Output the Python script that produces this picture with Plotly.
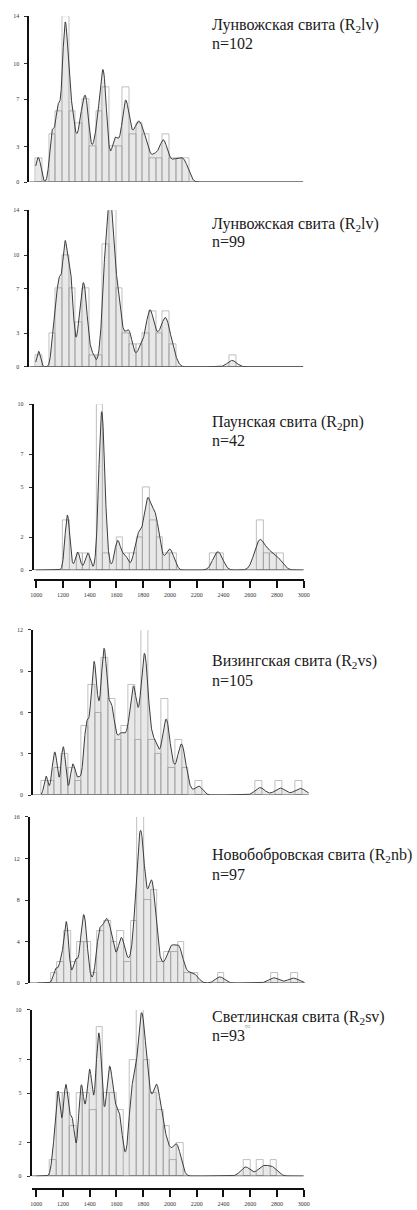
import numpy as np
import plotly.graph_objects as go

W, H = 417, 1210
BIN = 50            # histogram bin width, Ma
PX_PER_MA = 0.137   # horizontal scale shared by all panels

# ---- detrital zircon ages (Ma), one list per formation ----
ages_lv_a = [1008, 1030,
             1112, 1118, 1125, 1140,
             1158, 1162, 1165, 1170, 1180, 1192,
             1203, 1207, 1210, 1213, 1216, 1218, 1220, 1222, 1225, 1228, 1233, 1238, 1242, 1247,
             1255, 1260, 1268, 1275, 1282, 1295,
             1310, 1325, 1335, 1342, 1348,
             1358, 1365, 1372, 1376, 1380, 1385, 1392,
             1412, 1435, 1446,
             1460, 1468, 1475, 1485, 1492, 1497,
             1502, 1505, 1508, 1510, 1512, 1515, 1520, 1535,
             1575, 1585, 1592,
             1605, 1620, 1640,
             1655, 1662, 1668, 1672, 1675, 1678, 1683, 1692,
             1710, 1722, 1735, 1745,
             1760, 1768, 1772, 1778, 1790,
             1808, 1815, 1822, 1840,
             1870, 1890,
             1905, 1935,
             1952, 1956, 1960, 1975,
             2010, 2035,
             2060, 2085,
             2110, 2125]

ages_lv_b = [1022,
             1128, 1140, 1146,
             1160, 1168, 1172, 1175, 1178, 1185, 1195,
             1208, 1212, 1215, 1217, 1219, 1220, 1222, 1226, 1235, 1244,
             1252, 1255, 1258, 1262, 1266, 1272, 1280,
             1318, 1328, 1335, 1345,
             1352, 1356, 1360, 1365, 1370, 1378, 1390,
             1425,
             1490,
             1508, 1512, 1516, 1520, 1524, 1527, 1530, 1533, 1538, 1542, 1547,
             1551, 1553, 1555, 1557, 1558, 1560, 1561, 1562, 1564, 1566, 1570, 1575, 1585, 1595,
             1600, 1603, 1606, 1612, 1620, 1628, 1640,
             1660, 1680, 1695,
             1705, 1712,
             1770, 1790,
             1820, 1838, 1846,
             1852, 1855, 1860, 1872, 1885,
             1910, 1925, 1940,
             1962, 1968, 1972, 1976, 1988,
             2010, 2030,
             2468]

ages_pn = [1228, 1232, 1240,
           1310,
           1385,
           1478, 1482, 1485, 1487, 1489, 1490, 1491, 1493, 1495, 1498,
           1520,
           1605, 1612,
           1665,
           1745,
           1765, 1778,
           1820, 1825, 1830, 1833, 1840,
           1870, 1880, 1888,
           1902, 1915,
           1985,
           2012,
           2345, 2372,
           2660, 2665, 2672,
           2720,
           2760,
           2810]

ages_vs = [1035,
           1085,
           1102, 1110,
           1158, 1163, 1170,
           1230, 1240,
           1280,
           1322, 1332, 1338, 1342, 1346,
           1372, 1380, 1384, 1387, 1390, 1392, 1395, 1398,
           1405, 1410, 1418, 1430, 1440, 1447,
           1462, 1465, 1467, 1469, 1470, 1471, 1473, 1475, 1478, 1485,
           1510, 1516, 1520, 1523, 1527, 1535, 1545,
           1560, 1575, 1585, 1595,
           1605, 1615, 1630, 1640, 1648,
           1668, 1675, 1680, 1684, 1687, 1690, 1693, 1698,
           1705, 1715, 1730, 1748,
           1755, 1760, 1763, 1766, 1768, 1770, 1772, 1774, 1777, 1780, 1785, 1792,
           1805, 1815, 1830, 1845,
           1855, 1860, 1875,
           1915, 1922, 1927, 1930, 1933, 1938, 1945,
           1960, 1985,
           2030, 2040, 2045, 2048,
           2060, 2080,
           2175,
           2635, 2785, 2935]

ages_nb = [1135,
           1170, 1190,
           1212, 1216, 1219, 1222, 1226,
           1280, 1290,
           1325, 1335, 1342, 1346,
           1352, 1355, 1362, 1375,
           1445,
           1460, 1466, 1470, 1475, 1490,
           1505, 1512, 1516, 1520, 1525, 1540,
           1552, 1556, 1560, 1585,
           1615, 1622, 1628, 1634, 1645,
           1665, 1690,
           1715, 1735, 1740, 1744, 1746, 1748,
           1752, 1755, 1760, 1765, 1770, 1773, 1775, 1777, 1778, 1779, 1780, 1781, 1783, 1785, 1788, 1795,
           1802, 1806, 1810, 1830, 1840, 1845, 1847, 1849,
           1855, 1858, 1861, 1863, 1865, 1867, 1870, 1875, 1885,
           1915, 1935,
           1975, 1988, 1995,
           2005, 2020, 2040,
           2058, 2063, 2068, 2080,
           2135, 2180,
           2365,
           2770,
           2915]

ages_sv = [1130,
           1155, 1160, 1163, 1170, 1190,
           1215, 1218, 1221, 1225, 1240,
           1262, 1270, 1278,
           1325, 1330, 1335, 1338, 1345,
           1362, 1385, 1393, 1397, 1399,
           1402, 1408, 1425, 1445,
           1458, 1462, 1466, 1468, 1470, 1472, 1475, 1480, 1490,
           1520, 1535, 1540, 1545, 1548,
           1552, 1558, 1570, 1580, 1595,
           1610, 1620, 1625, 1640,
           1705, 1710, 1713, 1716, 1722, 1735, 1745,
           1765, 1770, 1774, 1777, 1779, 1781, 1783, 1786, 1790, 1798,
           1805, 1812, 1818, 1822, 1826, 1832, 1845,
           1858, 1875, 1888, 1895, 1899,
           1905, 1910, 1915, 1935,
           1955, 1962, 1990,
           2030,
           2055, 2062,
           2565, 2690, 2765]

formations = ["Лунвожская свита (R<sub>2</sub>lv)",
              "Лунвожская свита (R<sub>2</sub>lv)",
              "Паунская свита (R<sub>2</sub>pn)",
              "Визингская свита (R<sub>2</sub>vs)",
              "Новобобровская свита (R<sub>2</sub>nb)",
              "Светлинская свита (R<sub>2</sub>sv)"]
n_labels = ["n=102", "n=99", "n=42", "n=105", "n=97", "n=93"]
y_ticks = [[0, 3, 7, 10, 14], [0, 3, 7, 10, 14], [0, 2, 5, 7, 10],
           [0, 3, 6, 9, 12], [0, 4, 8, 12, 16], [0, 2, 5, 7, 10]]
x_ticks = [1000, 1200, 1400, 1600, 1800, 2000, 2200, 2400, 2600, 2800, 3000]

all_ages = [ages_lv_a, ages_lv_b, ages_pn, ages_vs, ages_nb, ages_sv]

# ---- panel geometry in pixels ----
# top: y of the axis maximum, base: y of zero, yax: x of the y axis line,
# x1000: x of 1000 Ma, xaxis: y of the age axis (None = no age axis),
# t1/t2: baselines of the two label lines
frames = [
    dict(top=13.3, base=180.0, yax=26.0, x1000=32.5, xaxis=None, t1=28.3, t2=46.0),
    dict(top=208.3, base=365.7, yax=26.0, x1000=32.5, xaxis=None, t1=227.7, t2=245.0),
    dict(top=403.3, base=570.0, yax=30.5, x1000=33.0, xaxis=579.5, t1=427.0, t2=445.0),
    dict(top=630.0, base=796.0, yax=30.0, x1000=38.3, xaxis=None, t1=666.7, t2=686.0),
    dict(top=818.0, base=985.0, yax=26.7, x1000=34.0, xaxis=None, t1=861.7, t2=881.0),
    dict(top=1012.0, base=1179.0, yax=28.3, x1000=33.0, xaxis=1191.5, t1=1025.0, t2=1042.7),
]

SERIF = "Liberation Serif, Times New Roman, serif"
TITLE_FS = 16


def density(ages, grid):
    """Probability density curve scaled to histogram counts (1.4% 1-sigma errors)."""
    a = np.asarray(ages, dtype=float)[:, None]
    s = 0.014 * a
    g = np.exp(-0.5 * ((grid[None, :] - a) / s) ** 2) / (s * np.sqrt(2 * np.pi))
    return BIN * g.sum(axis=0)


grid = np.arange(1000, 3001, 1.0)

fig = go.Figure()
layout = dict(width=W, height=H, margin=dict(l=0, r=0, t=0, b=0),
              paper_bgcolor="white", plot_bgcolor="rgba(0,0,0,0)",
              showlegend=False, bargap=0, barmode="overlay")
shapes, annotations = [], []

for i, (ages, fr) in enumerate(zip(all_ages, frames)):
    k = "" if i == 0 else str(i + 1)
    xa, ya = "x" + k, "y" + k
    ymax = y_ticks[i][-1]
    x_lo = 1000 - (fr["x1000"] - fr["yax"]) / PX_PER_MA
    x_right_px = fr["x1000"] + 2000 * PX_PER_MA
    px_per_unit = (fr["base"] - fr["top"]) / ymax

    # histogram outlines
    fig.add_trace(go.Histogram(
        x=ages, xaxis=xa, yaxis=ya, autobinx=False,
        xbins=dict(start=1000, end=3000, size=BIN),
        marker=dict(color="rgba(255,255,255,0)", line=dict(color="#b0b0b0", width=0.8)),
        hoverinfo="skip"))

    # filled probability density curve
    fig.add_trace(go.Scatter(
        x=grid, y=density(ages, grid), xaxis=xa, yaxis=ya, mode="lines",
        fill="tozeroy", fillcolor="rgba(0,0,0,0.09)",
        line=dict(color="#3c3c3c", width=1), hoverinfo="skip"))

    # individual ages as open circles under the baseline
    rug_y = -4.0 / px_per_unit
    fig.add_trace(go.Scatter(
        x=ages, y=[rug_y] * len(ages), xaxis=xa, yaxis=ya, mode="markers",
        cliponaxis=False,
        marker=dict(symbol="circle-open", size=5, color="#333", line=dict(width=0.8)),
        hoverinfo="skip"))

    xdom = [fr["yax"] / W, x_right_px / W]
    ydom = [1 - fr["base"] / H, 1 - fr["top"] / H]

    xaxis = dict(domain=xdom, range=[x_lo, 3000], showgrid=False, zeroline=False,
                 fixedrange=True)
    if fr["xaxis"] is None:
        xaxis.update(anchor=ya, visible=False)
    else:
        xaxis.update(anchor="free", position=1 - fr["xaxis"] / H,
                     showline=True, linecolor="#111", linewidth=2,
                     ticks="outside", ticklen=7, tickwidth=2, tickcolor="#111",
                     tickvals=x_ticks, ticktext=[str(v) for v in x_ticks],
                     tickfont=dict(family=SERIF, size=6, color="#333"),
                     ticklabelstandoff=2)
    layout["xaxis" + k] = xaxis

    layout["yaxis" + k] = dict(
        domain=ydom, range=[0, ymax], anchor=xa, showgrid=False, zeroline=False,
        showline=True, linecolor="#111", linewidth=2,
        ticks="outside", ticklen=3, tickwidth=1, tickcolor="#333",
        tickvals=y_ticks[i], ticktext=[str(v) for v in y_ticks[i]],
        tickfont=dict(family=SERIF, size=6, color="#333"),
        ticklabelstandoff=4, fixedrange=True)

    # zero baseline across the panel
    shapes.append(dict(type="line", xref=xa + " domain", yref=ya,
                       x0=0, x1=1, y0=0, y1=0,
                       line=dict(color="#555", width=1.2), layer="above"))

    # formation name and sample size
    for txt, base_px in ((formations[i], fr["t1"]), (n_labels[i], fr["t2"])):
        annotations.append(dict(
            text=txt, xref="paper", yref="paper", x=211 / W,
            y=1 - (base_px - 0.3375 * TITLE_FS) / H,
            xanchor="left", yanchor="middle", showarrow=False,
            font=dict(family=SERIF, size=TITLE_FS, color="#1a1a1a")))

# small stray label beside the last sample size
annotations.append(dict(text="93", xref="paper", yref="paper", x=250 / W,
                        y=1 - 1029 / H, xanchor="center", yanchor="middle",
                        showarrow=False, font=dict(family=SERIF, size=5, color="#777")))

layout["shapes"] = shapes
layout["annotations"] = annotations
fig.update_layout(**layout)
fig.write_html("out.html")
